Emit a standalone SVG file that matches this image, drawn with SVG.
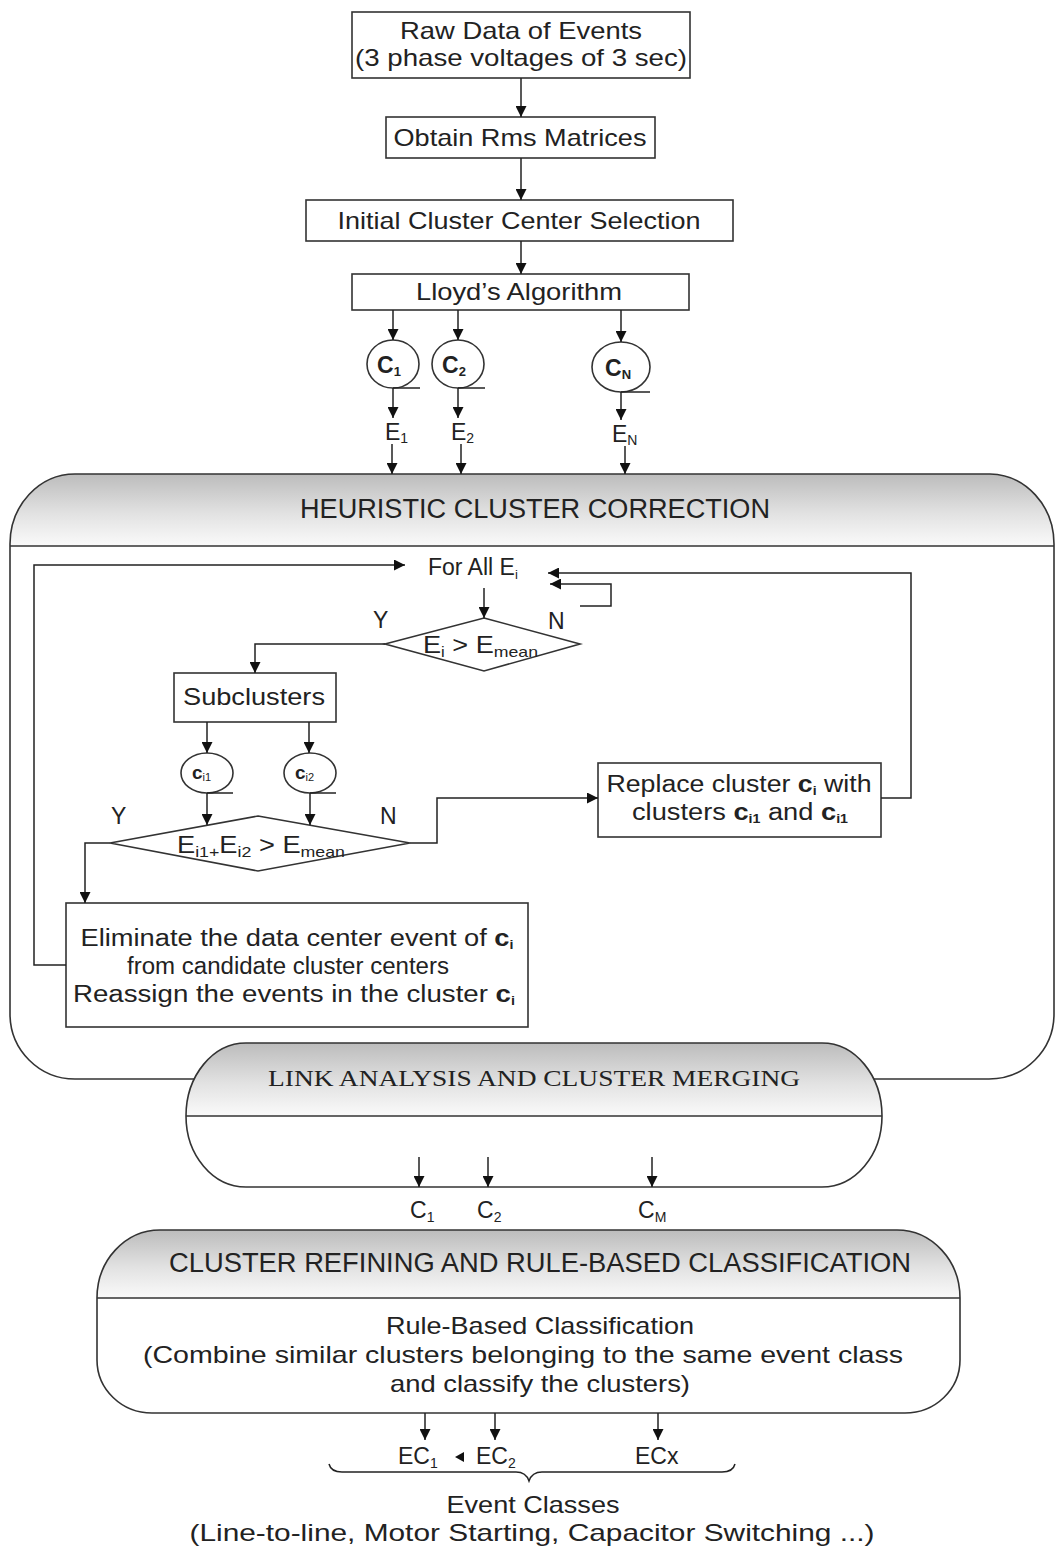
<svg xmlns="http://www.w3.org/2000/svg" width="1056" height="1546" viewBox="0 0 1056 1546">
  <style>
    .box { fill: #ffffff; stroke: #333333; stroke-width: 1.6; }
    .edge { fill: none; stroke: #222222; stroke-width: 1.5; }
    .arr { fill: none; stroke: #222222; stroke-width: 1.5; marker-end: url(#head); }
    .outline { fill: none; stroke: #333333; stroke-width: 1.6; }
    .t { font-family: "Liberation Sans", Arial, sans-serif; font-size: 23px; fill: #222222; }
    .big { font-size: 24px; }
    .title { font-size: 27px; }
    .cl { font-size: 19px; }
    .c { text-anchor: middle; }
    .b { font-weight: bold; }
    .serif { font-family: "Liberation Serif", "Times New Roman", serif; font-size: 24px; fill: #222222; }
  </style>
  <defs>
    <marker id="head" viewBox="0 0 10 10" refX="10" refY="5" markerWidth="11" markerHeight="11" markerUnits="userSpaceOnUse" orient="auto">
      <path d="M0,0 L10,5 L0,10 Z" fill="#111111"/>
    </marker>
    <linearGradient id="hdr" x1="0" y1="0" x2="0" y2="1">
      <stop offset="0" stop-color="#bcbcbc"/>
      <stop offset="0.55" stop-color="#e2e2e2"/>
      <stop offset="1" stop-color="#fafafa"/>
    </linearGradient>
  </defs>

  <rect width="1056" height="1546" fill="#ffffff"/>

  <!-- Top processing chain -->
  <g id="raw-data">
    <rect class="box" x="352" y="12" width="338" height="66"/>
    <text class="t big c" x="521" y="39" textLength="242" lengthAdjust="spacingAndGlyphs">Raw Data of Events</text>
    <text class="t big c" x="521" y="66" textLength="332" lengthAdjust="spacingAndGlyphs">(3 phase voltages of 3 sec)</text>
  </g>
  <g id="rms">
    <rect class="box" x="386" y="117" width="269" height="41"/>
    <text class="t big c" x="520" y="146" textLength="253" lengthAdjust="spacingAndGlyphs">Obtain Rms Matrices</text>
  </g>
  <g id="initial-centers">
    <rect class="box" x="306" y="200" width="427" height="41"/>
    <text class="t big c" x="519" y="229" textLength="363" lengthAdjust="spacingAndGlyphs">Initial Cluster Center Selection</text>
  </g>
  <g id="lloyd">
    <rect class="box" x="352" y="274" width="337" height="36"/>
    <text class="t big c" x="519" y="300" textLength="206" lengthAdjust="spacingAndGlyphs">Lloyd’s Algorithm</text>
  </g>

  <!-- Initial clusters -->
  <g id="c1">
    <ellipse class="box" cx="393" cy="364" rx="26" ry="24"/>
    <line class="edge" x1="393" y1="388" x2="420" y2="388"/>
    <text class="t b" x="377" y="373">C<tspan font-size="13" dy="3">1</tspan></text>
  </g>
  <g id="c2">
    <ellipse class="box" cx="458" cy="364" rx="26" ry="24"/>
    <line class="edge" x1="458" y1="388" x2="485" y2="388"/>
    <text class="t b" x="442" y="373">C<tspan font-size="13" dy="3">2</tspan></text>
  </g>
  <g id="cN">
    <ellipse class="box" cx="621" cy="367" rx="29" ry="25"/>
    <line class="edge" x1="621" y1="392" x2="650" y2="392"/>
    <text class="t b" x="605" y="376">C<tspan font-size="13" dy="3">N</tspan></text>
  </g>
  <g id="e-labels">
    <text class="t" x="385" y="440">E<tspan font-size="14" dy="3">1</tspan></text>
    <text class="t" x="451" y="440">E<tspan font-size="14" dy="3">2</tspan></text>
    <text class="t" x="612" y="442">E<tspan font-size="14" dy="3">N</tspan></text>
  </g>

  <!-- Heuristic cluster correction container -->
  <g id="heuristic">
    <path d="M75,474 H990 A65,70 0 0 1 1054,544 V546 H10 V544 A65,70 0 0 1 75,474 Z" fill="url(#hdr)"/>
    <path class="outline" d="M75,474 H990 A65,70 0 0 1 1054,544 V1014 A65,65 0 0 1 989,1079 H75 A65,65 0 0 1 10,1014 V544 A65,70 0 0 1 75,474 Z"/>
    <line class="outline" x1="10" y1="546" x2="1054" y2="546"/>
    <text class="t title c" x="535" y="518" textLength="470" lengthAdjust="spacingAndGlyphs">HEURISTIC CLUSTER CORRECTION</text>
  </g>

  <g id="for-all">
    <text class="t" x="428" y="575">For All E<tspan font-size="13" dy="4">i</tspan></text>
  </g>
  <g id="decision-1">
    <polygon class="box" points="484,618 580,644 484,671 385,644"/>
    <text class="t" x="423" y="653" textLength="115" lengthAdjust="spacingAndGlyphs">E<tspan font-size="14" dy="4">i</tspan><tspan dy="-4"> &gt; E</tspan><tspan font-size="15" dy="4">mean</tspan></text>
    <text class="t" x="373" y="628">Y</text>
    <text class="t" x="548" y="629">N</text>
  </g>
  <g id="subclusters">
    <rect class="box" x="174" y="673" width="162" height="49"/>
    <text class="t big c" x="254" y="705" textLength="142" lengthAdjust="spacingAndGlyphs">Subclusters</text>
  </g>
  <g id="ci1">
    <ellipse class="box" cx="207" cy="773" rx="26" ry="20"/>
    <line class="edge" x1="207" y1="793" x2="233" y2="793"/>
    <text class="t cl b" x="192" y="779">c<tspan font-size="11" font-weight="normal" dy="2">i1</tspan></text>
  </g>
  <g id="ci2">
    <ellipse class="box" cx="310" cy="773" rx="26" ry="20"/>
    <line class="edge" x1="310" y1="793" x2="336" y2="793"/>
    <text class="t cl b" x="295" y="779">c<tspan font-size="11" font-weight="normal" dy="2">i2</tspan></text>
  </g>
  <g id="decision-2">
    <polygon class="box" points="258,816 410,843 258,871 110,843"/>
    <text class="t" x="177" y="853" textLength="168" lengthAdjust="spacingAndGlyphs">E<tspan font-size="15" dy="4">i1+</tspan><tspan dy="-4">E</tspan><tspan font-size="15" dy="4">i2</tspan><tspan dy="-4"> &gt; E</tspan><tspan font-size="15" dy="4">mean</tspan></text>
    <text class="t" x="111" y="824">Y</text>
    <text class="t" x="380" y="824">N</text>
  </g>
  <g id="replace">
    <rect class="box" x="598" y="763" width="283" height="74"/>
    <text class="t c" x="739" y="792" textLength="265" lengthAdjust="spacingAndGlyphs">Replace cluster <tspan class="b">c</tspan><tspan font-size="12" class="b" dy="3">i</tspan><tspan dy="-3"> with</tspan></text>
    <text class="t c" x="740" y="820" textLength="216" lengthAdjust="spacingAndGlyphs">clusters <tspan class="b">c</tspan><tspan font-size="12" class="b" dy="3">i1</tspan><tspan dy="-3"> and </tspan><tspan class="b">c</tspan><tspan font-size="12" class="b" dy="3">i1</tspan></text>
  </g>
  <g id="eliminate">
    <rect class="box" x="66" y="903" width="462" height="124"/>
    <text class="t c" x="297" y="946" textLength="433" lengthAdjust="spacingAndGlyphs">Eliminate the data center event of <tspan class="b">c</tspan><tspan font-size="12" class="b" dy="3">i</tspan></text>
    <text class="t c" x="288" y="974" textLength="322" lengthAdjust="spacingAndGlyphs">from candidate cluster centers</text>
    <text class="t c" x="294" y="1002" textLength="442" lengthAdjust="spacingAndGlyphs">Reassign the events in the cluster <tspan class="b">c</tspan><tspan font-size="12" class="b" dy="3">i</tspan></text>
  </g>

  <!-- Link analysis and cluster merging -->
  <g id="link-analysis">
    <path d="M246,1043 H822 A60,73 0 0 1 882,1116 A60,71 0 0 1 822,1187 H246 A60,71 0 0 1 186,1116 A60,73 0 0 1 246,1043 Z" fill="#ffffff"/>
    <path d="M246,1043 H822 A60,73 0 0 1 882,1116 H186 A60,73 0 0 1 246,1043 Z" fill="url(#hdr)"/>
    <path class="outline" d="M246,1043 H822 A60,73 0 0 1 882,1116 A60,71 0 0 1 822,1187 H246 A60,71 0 0 1 186,1116 A60,73 0 0 1 246,1043 Z"/>
    <line class="outline" x1="186" y1="1116" x2="882" y2="1116"/>
    <text class="serif c" x="534" y="1086" textLength="532" lengthAdjust="spacingAndGlyphs">LINK ANALYSIS AND CLUSTER MERGING</text>
  </g>
  <g id="merged-labels">
    <text class="t" x="410" y="1218">C<tspan font-size="14" dy="4">1</tspan></text>
    <text class="t" x="477" y="1218">C<tspan font-size="14" dy="4">2</tspan></text>
    <text class="t" x="638" y="1218">C<tspan font-size="14" dy="4">M</tspan></text>
  </g>

  <!-- Cluster refining and rule-based classification -->
  <g id="refining">
    <path d="M160,1230 H897 A63,68 0 0 1 960,1298 H97 A63,68 0 0 1 160,1230 Z" fill="url(#hdr)"/>
    <path class="outline" d="M160,1230 H897 A63,68 0 0 1 960,1298 V1360 A55,53 0 0 1 905,1413 H152 A55,53 0 0 1 97,1360 V1298 A63,68 0 0 1 160,1230 Z"/>
    <line class="outline" x1="97" y1="1298" x2="960" y2="1298"/>
    <text class="t title c" x="540" y="1272" textLength="742" lengthAdjust="spacingAndGlyphs">CLUSTER REFINING AND RULE-BASED CLASSIFICATION</text>
    <text class="t big c" x="540" y="1334" textLength="308" lengthAdjust="spacingAndGlyphs">Rule-Based Classification</text>
    <text class="t big c" x="523" y="1363" textLength="760" lengthAdjust="spacingAndGlyphs">(Combine similar clusters belonging to the same event class</text>
    <text class="t big c" x="540" y="1392" textLength="300" lengthAdjust="spacingAndGlyphs">and classify the clusters)</text>
  </g>

  <!-- Event classes -->
  <g id="event-classes">
    <text class="t" x="398" y="1464">EC<tspan font-size="14" dy="4">1</tspan></text>
    <text class="t" x="476" y="1464">EC<tspan font-size="14" dy="4">2</tspan></text>
    <text class="t" x="635" y="1464">ECx</text>
    <path class="edge" d="M329,1464 Q331,1472 342,1472 H516 Q526,1472 529,1481 Q532,1472 542,1472 H722 Q733,1472 735,1464"/>
    <text class="t big c" x="533" y="1513" textLength="173" lengthAdjust="spacingAndGlyphs">Event Classes</text>
    <text class="t big c" x="532" y="1541" textLength="685" lengthAdjust="spacingAndGlyphs">(Line-to-line, Motor Starting, Capacitor Switching ...)</text>
  </g>

  <!-- Connectors -->
  <g id="connectors">
    <path class="arr" d="M521,78 V117"/>
    <path class="arr" d="M521,158 V200"/>
    <path class="arr" d="M521,241 V274"/>
    <path class="arr" d="M393,310 V340"/>
    <path class="arr" d="M458,310 V340"/>
    <path class="arr" d="M621,310 V342"/>
    <path class="arr" d="M393,388 V418"/>
    <path class="arr" d="M458,388 V418"/>
    <path class="arr" d="M621,392 V420"/>
    <path class="arr" d="M392,444 V474"/>
    <path class="arr" d="M461,444 V474"/>
    <path class="arr" d="M625,446 V474"/>

    <path class="arr" d="M66,965 H34 V565 H405"/>
    <path class="arr" d="M881,798 H911 V573 H548"/>
    <path class="arr" d="M580,606 H611 V584 H550"/>
    <path class="arr" d="M484,588 V618"/>
    <path class="arr" d="M385,644 H255 V673"/>
    <path class="arr" d="M207,722 V753"/>
    <path class="arr" d="M309,722 V753"/>
    <path class="arr" d="M207,793 V825"/>
    <path class="arr" d="M310,793 V825"/>
    <path class="arr" d="M410,843 H437 V798 H598"/>
    <path class="arr" d="M110,843 H85 V903"/>

    <path class="arr" d="M419,1157 V1187"/>
    <path class="arr" d="M488,1157 V1187"/>
    <path class="arr" d="M652,1157 V1187"/>

    <path class="arr" d="M425,1413 V1440"/>
    <path class="arr" d="M495,1413 V1440"/>
    <path class="arr" d="M658,1413 V1440"/>
    <polygon points="455,1457 464,1452 464,1462" fill="#111111"/>
  </g>
</svg>
